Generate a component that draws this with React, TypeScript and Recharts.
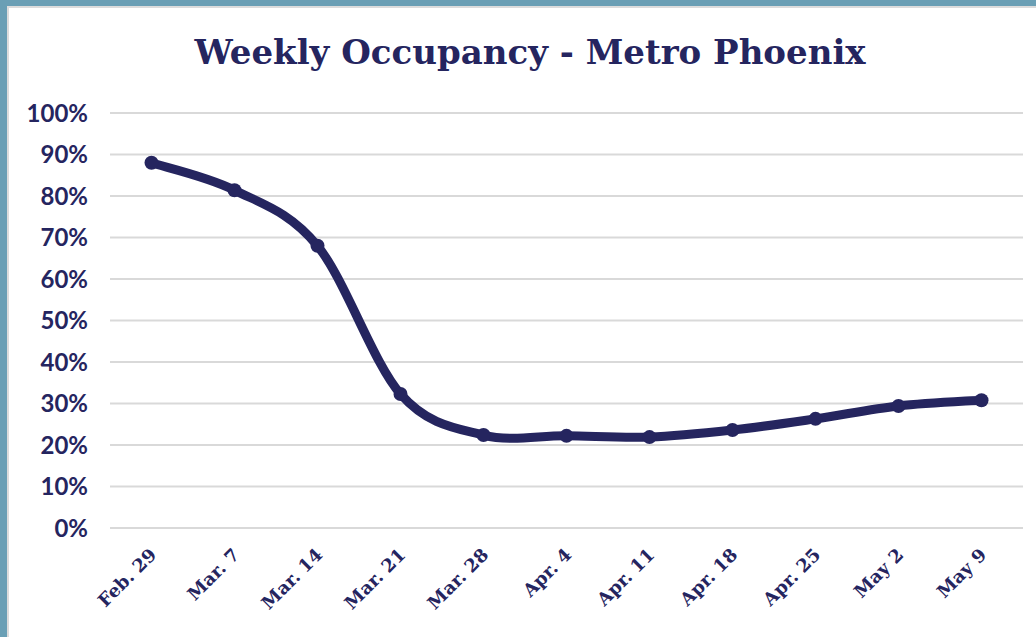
import React from 'react';
import { LineChart, Line, XAxis, YAxis, CartesianGrid } from 'recharts';

const categories = ['Feb. 29', 'Mar. 7', 'Mar. 14', 'Mar. 21', 'Mar. 28', 'Apr. 4', 'Apr. 11', 'Apr. 18', 'Apr. 25', 'May 2', 'May 9'];
const occupancy = [0.88, 0.814, 0.68, 0.323, 0.224, 0.222, 0.219, 0.236, 0.263, 0.294, 0.308];
const yTicks = [0, 0.1, 0.2, 0.3, 0.4, 0.5, 0.6, 0.7, 0.8, 0.9, 1.0];

const data = categories.map((c, i) => ({ week: c, value: occupancy[i] }));

const NAVY = '#25255f';

// Catmull-Rom style smoothing (similar to spreadsheet "smoothed line")
const smoothCurve = (context: any) => {
  let pts: [number, number][] = [];
  return {
    areaStart() {},
    areaEnd() {},
    lineStart() { pts = []; },
    point(x: number, y: number) { pts.push([+x, +y]); },
    lineEnd() {
      const n = pts.length;
      if (!n) return;
      context.moveTo(pts[0][0], pts[0][1]);
      for (let i = 0; i < n - 1; i++) {
        const p0 = pts[Math.max(0, i - 1)];
        const p1 = pts[i];
        const p2 = pts[i + 1];
        const p3 = pts[Math.min(n - 1, i + 2)];
        const c1x = p1[0] + (p2[0] - p0[0]) / 6;
        const c1y = p1[1] + (p2[1] - p0[1]) / 6;
        const c2x = p2[0] - (p3[0] - p1[0]) / 6;
        const c2y = p2[1] - (p3[1] - p1[1]) / 6;
        context.bezierCurveTo(c1x, c1y, c2x, c2y, p2[0], p2[1]);
      }
    },
  };
};

const XTick = (props: any) => {
  const { x, y, payload } = props;
  const ax = x + 6;
  const ay = y + 20;
  return (
    <text
      x={ax}
      y={ay}
      transform={`rotate(-45, ${ax}, ${ay})`}
      textAnchor="end"
      fill={NAVY}
      fontFamily="'DejaVu Serif', serif"
      fontWeight="bold"
      fontSize={18}
    >
      {payload.value}
    </text>
  );
};

export default function App() {
  return (
    <div style={{ position: 'absolute', left: 0, top: 0, width: 1036, height: 637, background: '#6a9fb5', overflow: 'hidden' }}>
      <div style={{ position: 'absolute', left: 7, top: 6, width: 1040, height: 640, background: '#ffffff', borderLeft: '2px solid #dcdcdc', borderTop: '2px solid #dcdcdc' }} />
      <div style={{ position: 'absolute', left: 0, top: 0, width: 1036, height: 637 }}>
        <div style={{ position: 'absolute', left: 0, top: 32, width: 1060, textAlign: 'center', fontFamily: "'DejaVu Serif', serif", fontWeight: 'bold', fontSize: 34, color: NAVY, lineHeight: '40px' }}>
          Weekly Occupancy - Metro Phoenix
        </div>
        <LineChart width={1036} height={637} data={data} margin={{ top: 113, right: 13, bottom: 79, left: 0 }}>
          <CartesianGrid vertical={false} stroke="#d9d9d9" strokeWidth={2} />
          <XAxis dataKey="week" scale="band" height={30} axisLine={false} tickLine={false} tick={<XTick />} interval={0} />
          <YAxis
            width={110}
            domain={[0, 1]}
            ticks={yTicks}
            axisLine={false}
            tickLine={false}
            tickMargin={16}
            tickFormatter={(v: number) => `${Math.round(v * 100)}%`}
            tick={{ fill: NAVY, fontFamily: "Lato, 'Open Sans', sans-serif", fontWeight: 'bold', fontSize: 24 }}
          />
          <Line
            dataKey="value"
            type={smoothCurve as any}
            stroke={NAVY}
            strokeWidth={9}
            dot={{ r: 7, fill: NAVY, stroke: NAVY, strokeWidth: 0 }}
            isAnimationActive={false}
          />
        </LineChart>
      </div>
    </div>
  );
}
